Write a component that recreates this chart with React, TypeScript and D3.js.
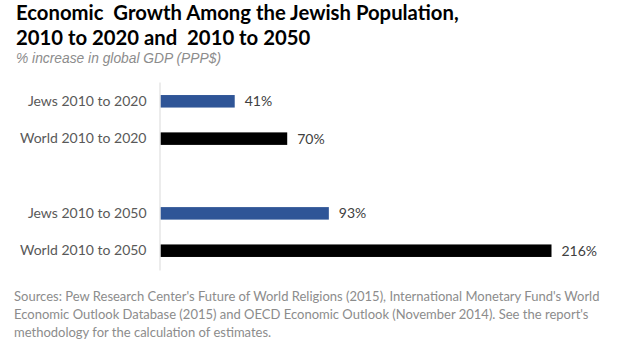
import { useEffect, useRef } from "react";
import * as d3 from "d3";

const categories = ["Jews 2010 to 2020", "World 2010 to 2020", "", "Jews 2010 to 2050", "World 2010 to 2050"];
const values = [41, 70, null, 93, 216];
const groups = ["Jews", "World", "", "Jews", "World"];

const title = ["Economic  Growth Among the Jewish Population,", "2010 to 2020 and  2010 to 2050"];
const subtitle = "% increase in global GDP (PPP$)";
const sources = [
  "Sources: Pew Research Center's Future of World Religions (2015), International Monetary Fund's World",
  "Economic Outlook Database (2015) and OECD Economic Outlook (November 2014). See the report's",
  "methodology for the calculation of estimates.",
];

const COLORS: Record<string, string> = { Jews: "#2f5597", World: "#000000" };
const FONT = "Lato, 'Open Sans', sans-serif";

export default function App() {
  const svgRef = useRef<SVGSVGElement>(null);

  useEffect(() => {
    if (!svgRef.current) return;
    const svg = d3.select(svgRef.current);
    svg.selectAll("*").remove();

    const W = 620, H = 352;
    svg.attr("width", W).attr("height", H);
    svg.append("rect").attr("width", W).attr("height", H).attr("fill", "#fff");

    // Title + subtitle
    svg.append("g").selectAll("text").data(title).enter().append("text")
      .attr("x", 16).attr("y", (_, i) => 20 + i * 25)
      .attr("font-family", FONT).attr("font-weight", 700).attr("font-size", "20.3px")
      .attr("fill", "#000").attr("xml:space", "preserve").style("white-space", "pre")
      .text((d) => d);

    svg.append("text")
      .attr("x", 16).attr("y", 63)
      .attr("font-family", "'Liberation Sans', Arial, sans-serif").attr("font-style", "italic")
      .attr("font-size", "13.8px").attr("fill", "#8c8c8c")
      .text(subtitle);

    const x = d3.scaleLinear().domain([0, 216]).range([160.5, 551.5]);
    const y = d3.scaleBand<number>()
      .domain(d3.range(categories.length))
      .range([82, 270])
      .paddingInner(0.665)
      .paddingOuter(0.349);

    // Bars
    const rows = d3.range(categories.length).filter((i) => values[i] != null);
    svg.append("g").selectAll("rect").data(rows).enter().append("rect")
      .attr("x", x(0)).attr("y", (i) => y(i)!)
      .attr("width", (i) => x(values[i]!) - x(0))
      .attr("height", y.bandwidth())
      .attr("fill", (i) => COLORS[groups[i]]);

    // Value labels
    svg.append("g").selectAll("text").data(rows).enter().append("text")
      .attr("x", (i) => x(values[i]!) + 10)
      .attr("y", (i) => y(i)! + y.bandwidth() / 2)
      .attr("dy", "0.36em")
      .attr("font-family", FONT).attr("font-size", "14px").attr("fill", "#404040")
      .text((i) => `${values[i]}%`);

    // Axis
    const axis = svg.append("g").attr("transform", `translate(${x(0) - 1},0)`)
      .call(d3.axisLeft(y).tickSize(0).tickPadding(13).tickFormat((i) => categories[i as number]));
    axis.select(".domain").attr("stroke", "#d9d9d9");
    axis.selectAll("text")
      .attr("font-family", FONT).attr("font-size", "14px").attr("fill", "#595959");

    // Sources
    svg.append("g").selectAll("text").data(sources).enter().append("text")
      .attr("x", 14).attr("y", (_, i) => 301 + i * 18)
      .attr("font-family", FONT).attr("font-size", "13px").attr("fill", "#8c8c8c")
      .text((d) => d);
  }, []);

  return (
    <svg ref={svgRef} style={{ position: "absolute", left: 0, top: 0, display: "block" }} />
  );
}
